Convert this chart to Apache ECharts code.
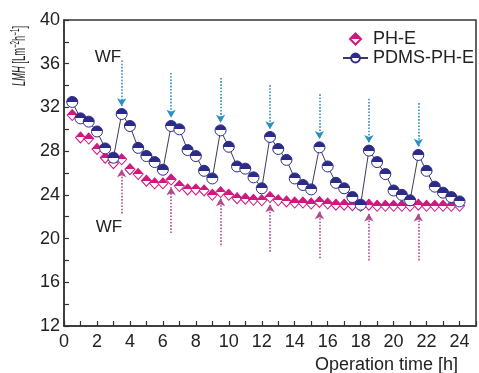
<!DOCTYPE html>
<html><head><meta charset="utf-8">
<script src="https://cdn.jsdelivr.net/npm/echarts@6/dist/echarts.min.js"></script>
<style>html,body{margin:0;padding:0;background:#fff}#c{width:479px;height:373px}</style>
</head><body><div id="c"></div>
<script>
const times = [0.5,1,1.5,2,2.5,3,3.5,4,4.5,5,5.5,6,6.5,7,7.5,8,8.5,9,9.5,10,10.5,11,11.5,12,
  12.5,13,13.5,14,14.5,15,15.5,16,16.5,17,17.5,18,18.5,19,19.5,20,20.5,21,21.5,22,22.5,23,23.5,24];
const pdmsValues = [32.5,31.0,30.7,29.8,28.25,27.4, 31.4,30.3,28.3,27.55,27.0,26.3,
  30.3,30.0,28.1,27.55,26.2,25.5, 29.9,28.4,26.6,26.4,25.6,24.6,
  29.3,28.2,27.2,25.5,24.9,24.5, 28.35,26.6,25.1,24.6,23.8,23.1,
  28.05,27.0,25.9,24.4,24.0,23.5, 27.65,26.2,24.75,24.2,23.8,23.4];
const phValues = [31.3,29.25,29.15,28.2,27.4,26.9, 27.25,26.35,25.9,25.3,25.05,25.05,
  25.4,24.8,24.5,24.5,24.4,24.0, 24.25,24.0,23.7,23.65,23.55,23.5,
  23.8,23.5,23.4,23.3,23.3,23.2, 23.35,23.2,23.1,23.1,23.05,23.0,
  23.1,23.0,23.0,23.0,23.0,23.0, 23.1,23.0,23.0,23.0,23.0,23.0];
const wfTimes = [3.5,6.5,9.5,12.5,15.5,18.5,21.5];
const downFrom = [36.3,35.15,34.7,34.05,33.2,32.8,32.4];
const downTo = [32.1,31.05,30.6,30.0,29.1,28.75,28.4];
const upFrom = [22.3,20.5,19.4,18.8,18.2,18.0,18.0];
const upTo = [26.35,24.7,23.7,23.15,22.5,22.3,22.3];
const seriesNames = ['PH-E','PDMS-PH-E'];
const xTickLabels = [0,2,4,6,8,10,12,14,16,18,20,22,24];
const yTickLabels = [12,16,20,24,28,32,36,40];

const NAVY = '#2c2c88', MAG = '#d0187e';
function half(top){
  return new echarts.graphic.LinearGradient(0,0,0,1,[
    {offset:0,color:top},{offset:0.5,color:top},{offset:0.5,color:'#ffffff'},{offset:1,color:'#ffffff'}]);
}
const chart = echarts.init(document.getElementById('c'), null, {renderer:'canvas'});
const FONT = 'Liberation Sans, Arial, sans-serif';
chart.setOption({
  animation:false,
  backgroundColor:'#fff',
  grid:{left:64, top:20, right:-4, bottom:47, show:true, borderColor:'#333', borderWidth:1.5, backgroundColor:'transparent'},
  legend:{
    orient:'vertical', left:337, top:25, itemWidth:25, itemHeight:11, itemGap:1, symbolKeepAspect:true,
    textStyle:{fontFamily:FONT, fontSize:18, color:'#222', lineHeight:17},
    data:[{name:seriesNames[0], icon:'path://M5,0 L10,5 L5,10 L0,5 Z'}, {name:seriesNames[1]}]
  },
  xAxis:{
    type:'value', min:0, max:25, interval:1,
    axisLine:{show:true, lineStyle:{color:'#333', width:1.5}},
    axisTick:{show:true, inside:true, length:5, lineStyle:{color:'#333', width:1.2}},
    splitLine:{show:false},
    axisLabel:{margin:7, fontFamily:FONT, fontSize:18, color:'#222',
      formatter:v => xTickLabels.indexOf(v) >= 0 ? String(v) : ''}
  },
  yAxis:{
    type:'value', min:12, max:40, interval:2,
    axisLine:{show:true, lineStyle:{color:'#333', width:1.5}},
    axisTick:{show:true, inside:true, length:5, lineStyle:{color:'#333', width:1.2}},
    splitLine:{show:false},
    axisLabel:{margin:4, fontFamily:FONT, fontSize:18, color:'#222',
      formatter:v => yTickLabels.indexOf(v) >= 0 ? String(v) : ''}
  },
  graphic:[
    {type:'text', x:20, y:56, rotation:Math.PI/2, scaleX:0.52, scaleY:1, style:{
      text:'{i|LMH} [Lm{s|−2}h{s|−1}]', fill:'#222', font:'18px '+FONT, align:'center', verticalAlign:'middle',
      rich:{i:{fontStyle:'italic', fontSize:18, fontFamily:FONT, fill:'#222'}, s:{fontSize:12, fontFamily:FONT, verticalAlign:'top', padding:[0,0,8,0], fill:'#222'}}
    }},
    {type:'text', x:458, y:365, style:{text:'Operation time [h]', fill:'#222', font:'18px '+FONT, align:'right', verticalAlign:'middle'}},
    {type:'text', x:108, y:57, style:{text:'WF', fill:'#222', font:'17px '+FONT, align:'center', verticalAlign:'middle'}},
    {type:'text', x:109, y:227, style:{text:'WF', fill:'#222', font:'17px '+FONT, align:'center', verticalAlign:'middle'}}
  ],
  series:[
    {
      name:seriesNames[0], type:'scatter', symbol:'diamond', symbolSize:[10,11],
      itemStyle:{color:half(MAG), borderColor:MAG, borderWidth:1, opacity:1},
      data: times.map((t,i)=>[t, phValues[i]]),
      z:3,
      markLine:{
        silent:true, symbol:['none','arrow'], symbolSize:[7,8], label:{show:false},
        lineStyle:{type:'dotted', color:'#b04a8c', width:1.6},
        data: wfTimes.map((t,i)=>[{coord:[t, upFrom[i]]},{coord:[t, upTo[i]]}])
      }
    },
    {
      name:seriesNames[1], type:'line', symbol:'circle', symbolSize:11, showAllSymbol:true,
      lineStyle:{color:'#3a3a5a', width:1},
      itemStyle:{color:half(NAVY), borderColor:NAVY, borderWidth:1},
      data: times.map((t,i)=>[t, pdmsValues[i]]),
      z:4,
      markLine:{
        silent:true, symbol:['none','arrow'], symbolSize:[7,8], label:{show:false},
        lineStyle:{type:'dotted', color:'#2a90c0', width:1.6},
        data: wfTimes.map((t,i)=>[{coord:[t, downFrom[i]]},{coord:[t, downTo[i]]}])
      }
    }
  ]
});
</script></body></html>
